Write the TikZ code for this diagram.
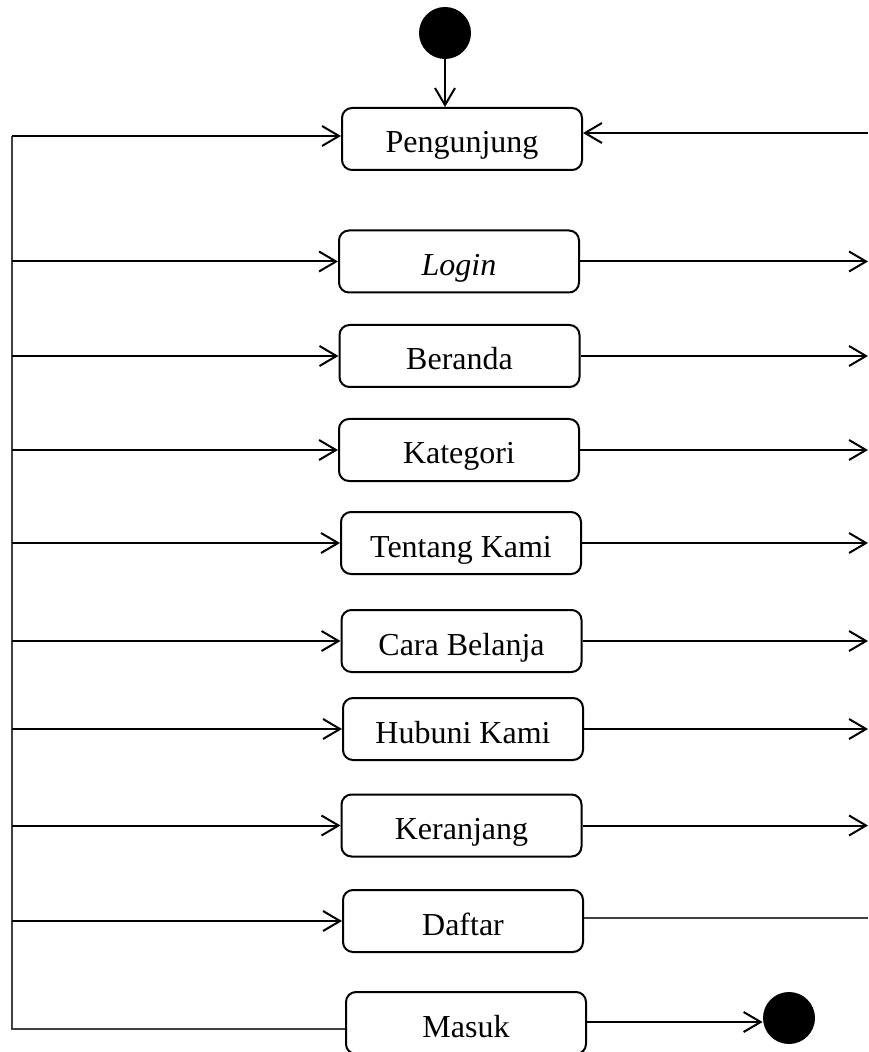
\documentclass[tikz,border=0pt]{standalone}
\usepackage{fontspec}
\setmainfont{Liberation Serif}
\usetikzlibrary{arrows.meta}
\begin{document}
\begin{tikzpicture}[x=0.5pt,y=-0.5pt,
  state/.style={draw, line width=1pt, rounded corners=5pt,
    minimum width=120pt, minimum height=31pt, inner sep=0pt,
    text height=14pt, text depth=0pt,
    font=\fontsize{16}{19}\selectfont},
  dot/.style={circle, fill=black, inner sep=0pt, minimum size=26pt},
  flow/.style={line width=1pt, -{Straight Barb[length=8.5pt,width=10pt,line width=1pt]}},
  bus/.style={line width=0.6pt, draw=black!75},
  plain/.style={line width=0.6pt, draw=black!75}]
  \useasboundingbox (0,0) rectangle (868,1052);

  % bus lines at the two sides
  \coordinate (L) at (12,0);
  \coordinate (R) at (868,0);

  % start and end
  \node[dot] (start) at (445,33) {};
  \node[dot] (stop) at (789,1018) {};

  % states
  \node[state] (peng) at (462,139) {Pengunjung};
  \node[state] (login) at (459,261.5) {\itshape Login};
  \node[state] (beranda) at (459.5,356) {Beranda};
  \node[state] (kat) at (459,450) {Kategori};
  \node[state] (tentang) at (461,543) {Tentang Kami};
  \node[state] (cara) at (461.5,641) {Cara Belanja};
  \node[state] (hubungi) at (463,729) {Hubuni Kami};
  \node[state] (keranjang) at (461.5,825.5) {Keranjang};
  \node[state] (daftar) at (463,921) {Daftar};
  \node[state] (masuk) at (466,1023) {Masuk};

  % initial transition
  \draw[flow] (start) -- (start |- peng.north);

  % loop back from Masuk along the left side
  \coordinate (mback) at ([yshift=-3pt]masuk.west);
  \coordinate (pin) at ([yshift=1.5pt]peng.west);
  \draw[bus] (mback) -- (mback -| L) -- (pin -| L);

  % arrows from the left bus into each state
  \draw[flow] (pin -| L) -- (pin);
  \foreach \s in {login,beranda,kat,tentang,cara,hubungi,keranjang,daftar}
    \draw[flow] (\s.west -| L) -- (\s.west);

  % arrows out to the right
  \coordinate (pret) at ([yshift=3pt]peng.east);
  \draw[flow] (pret -| R) -- (pret);
  \foreach \s in {login,beranda,kat,tentang,cara,hubungi,keranjang}
    \draw[flow] (\s.east) -- (\s.east -| R);
  \coordinate (dout) at ([yshift=1.5pt]daftar.east);
  \draw[plain] (dout) -- (dout -| R);

  % final transition
  \coordinate (mout) at ([yshift=0.5pt]masuk.east);
  \draw[flow] (mout) -- (mout -| stop.west);
\end{tikzpicture}
\end{document}
